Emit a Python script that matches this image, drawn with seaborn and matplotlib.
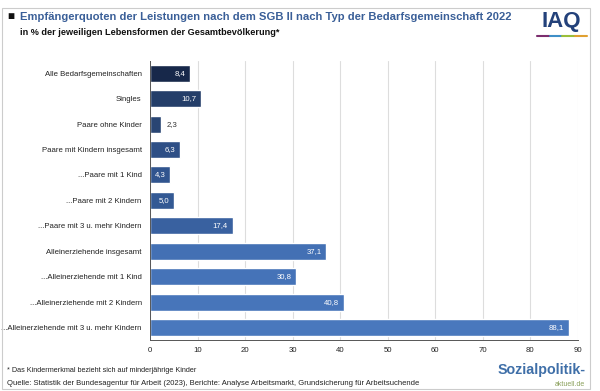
import pandas as pd
import seaborn as sns
import matplotlib.pyplot as plt
from matplotlib.patches import Rectangle

categories = ['Alle Bedarfsgemeinschaften', 'Singles', 'Paare ohne Kinder',
              'Paare mit Kindern insgesamt', '...Paare mit 1 Kind', '...Paare mit 2 Kindern',
              '...Paare mit 3 u. mehr Kindern', 'Alleinerziehende insgesamt',
              '...Alleinerziehende mit 1 Kind', '...Alleinerziehende mit 2 Kindern',
              '...Alleinerziehende mit 3 u. mehr Kindern']
values = [8.4, 10.7, 2.3, 6.3, 4.3, 5.0, 17.4, 37.1, 30.8, 40.8, 88.1]
colors = ['#17284a', '#243e69', '#294573', '#2e4f86', '#31558f', '#335994',
          '#3961a0', '#4370b4', '#4573b8', '#4775ba', '#4978bd']

data = pd.DataFrame({'Gruppe': categories, 'Quote': values})

sns.set_style("white")
plt.rcParams['font.family'] = ['Liberation Sans', 'DejaVu Sans']

fig = plt.figure(figsize=(6, 3.91), dpi=100)
ax = fig.add_axes([0.25, 0.13, 0.713, 0.715])

sns.barplot(data=data, x='Quote', y='Gruppe', hue='Gruppe', palette=colors,
            legend=False, width=0.67, saturation=1, ax=ax)

ax.set_xlim(0, 90)
ax.set_xticks(range(0, 91, 10))
ax.xaxis.grid(True, color='#dddddd', linewidth=0.8)
ax.set_axisbelow(True)
ax.set_xlabel('')
ax.set_ylabel('')
ax.tick_params(axis='x', labelsize=5.6, colors='#222222', length=2, width=0.6, direction='in', pad=5)
ax.tick_params(axis='y', labelsize=5.6, colors='#222222', length=0, pad=6)
for s in ['top', 'right']:
    ax.spines[s].set_visible(False)
for s in ['left', 'bottom']:
    ax.spines[s].set_color('#555555')
    ax.spines[s].set_linewidth(0.7)

for i, v in enumerate(values):
    txt = f'{v:.1f}'.replace('.', ',')
    if v < 3:
        ax.text(v + 1.2, i, txt, va='center', ha='left', fontsize=5.6, color='#333333')
    else:
        ax.text(v - 1.0, i, txt, va='center', ha='right', fontsize=5.6, color='white')

fig.text(0.012, 0.957, '■', fontsize=8.5, color='#111111', va='center')
fig.text(0.033, 0.957, 'Empfängerquoten der Leistungen nach dem SGB II nach Typ der Bedarfsgemeinschaft 2022',
         fontsize=8.15, fontweight='bold', color='#3a5f98', va='center')
fig.text(0.033, 0.918, 'in % der jeweiligen Lebensformen der Gesamtbevölkerung*',
         fontsize=6.6, fontweight='bold', color='#111111', va='center')

fig.text(0.935, 0.944, 'IAQ', fontsize=16, fontweight='bold', color='#23417a', va='center', ha='center')
line_cols = ['#7b2d6e', '#3f8fc7', '#9bbf3a', '#e0a030']
for k, c in enumerate(line_cols):
    fig.add_artist(plt.Line2D([0.895 + k * 0.021, 0.916 + k * 0.021], [0.908, 0.908],
                              color=c, linewidth=1.5, transform=fig.transFigure))

fig.text(0.012, 0.052, '* Das Kindermerkmal bezieht sich auf minderjährige Kinder',
         fontsize=5.2, color='#222222', va='center')
fig.text(0.012, 0.018, 'Quelle: Statistik der Bundesagentur für Arbeit (2023), Berichte: Analyse Arbeitsmarkt, Grundsicherung für Arbeitsuchende',
         fontsize=5.5, color='#222222', va='center')
fig.text(0.83, 0.054, 'Sozialpolitik-', fontsize=10.3, fontweight='bold', color='#3f6fa8', va='center')
fig.text(0.975, 0.016, 'aktuell.de', fontsize=5, color='#8aa05a', va='center', ha='right')

fig.add_artist(Rectangle((0.003, 0.005), 0.98, 0.975, transform=fig.transFigure,
                         fill=False, edgecolor='#cccccc', linewidth=0.8))

plt.savefig('out.png', dpi=100)
